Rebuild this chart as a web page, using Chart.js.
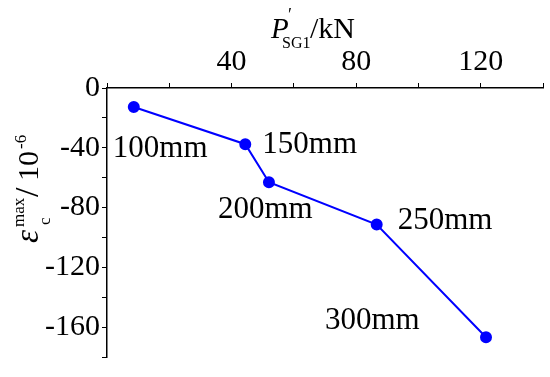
<!DOCTYPE html>
<html>
<head>
<meta charset="utf-8">
<script src="https://cdn.jsdelivr.net/npm/chart.js@4/dist/chart.umd.min.js"></script>
<style>
  html, body { margin: 0; padding: 0; background: #fff; }
  #wrap { width: 550px; height: 377px; }
</style>
</head>
<body>
<div id="wrap"><canvas id="chart" width="550" height="377"></canvas></div>
<script>
// data
const loads = [8.6, 44.4, 52.0, 86.6, 121.7]          // P'SG1 / kN
const strains = [-12.7, -37.6, -63.1, -91.4, -166.8]  // eps_c max / 1e-6
const spacings = ["100mm", "150mm", "200mm", "250mm", "300mm"]
const xTicks = [40, 80, 120]
const yTicks = [0, -40, -80, -120, -160]

const FONT = "'Liberation Serif', 'Times New Roman', serif"

// where each spacing label sits relative to its point (left, baseline)
const labelOffsets = [[-21, 50], [17, 9], [-51, 36], [21, 4], [-161, -8]]

const pointLabels = {
  id: 'pointLabels',
  afterDatasetsDraw(chart) {
    const ctx = chart.ctx
    const meta = chart.getDatasetMeta(0)
    ctx.save()
    ctx.font = '31px ' + FONT
    ctx.fillStyle = '#000'
    ctx.textBaseline = 'alphabetic'
    meta.data.forEach((pt, i) => {
      const off = labelOffsets[i]
      ctx.fillText(spacings[i], pt.x + off[0], pt.y + off[1])
    })
    ctx.restore()
  }
}

const axisTitles = {
  id: 'axisTitles',
  afterDraw(chart) {
    const ctx = chart.ctx
    ctx.save()
    ctx.fillStyle = '#000'
    ctx.textBaseline = 'alphabetic'
    // top title: P'_SG1 /kN
    let x = 271, y = 38
    ctx.font = 'italic 29px ' + FONT
    ctx.fillText('P', x, y)
    ctx.font = '18px ' + FONT
    ctx.fillText('\u2032', x + 17, y - 17)
    ctx.font = '16px ' + FONT
    ctx.fillText('SG1', x + 11, y + 10)
    ctx.font = '30px ' + FONT
    ctx.fillText('/kN', x + 39, y)

    // left title, rotated
    ctx.translate(38, 243)
    ctx.rotate(-Math.PI / 2)
    ctx.font = 'italic 33px ' + FONT
    ctx.fillText('\u03b5', 0, 0)
    ctx.font = '17px ' + FONT
    ctx.fillText('max', 16, -14)
    ctx.fillText('c', 18, 12)
    ctx.font = '34px ' + FONT
    ctx.fillText('/', 46, 0)
    ctx.font = '30px ' + FONT
    ctx.fillText('10', 62, 0)
    ctx.font = '17px ' + FONT
    ctx.fillText('-6', 94, -12)
    ctx.restore()
  }
}

new Chart(document.getElementById('chart').getContext('2d'), {
  type: 'scatter',
  data: {
    datasets: [{
      data: loads.map((v, i) => ({ x: v, y: strains[i] })),
      showLine: true,
      borderColor: '#0000ff',
      backgroundColor: '#0000ff',
      borderWidth: 2,
      pointRadius: 5,
      pointHoverRadius: 5
    }]
  },
  options: {
    responsive: false,
    animation: false,
    layout: { padding: { left: 0, top: 0, right: 6, bottom: 7 } },
    plugins: { legend: { display: false }, tooltip: { enabled: false } },
    scales: {
      x: {
        type: 'linear',
        position: 'top',
        min: 0,
        max: 140,
        afterFit: s => { s.height = 88 },
        grid: { drawOnChartArea: false, drawTicks: true, tickLength: 5, color: '#000', lineWidth: 1 },
        border: { display: true, color: '#000', width: 1.5 },
        ticks: {
          stepSize: 20,
          autoSkip: false,
          padding: 3,
          color: '#000',
          font: { family: FONT, size: 30 },
          maxRotation: 0,
          callback: v => xTicks.includes(v) ? String(v) : ''
        }
      },
      y: {
        type: 'linear',
        min: -180,
        max: 0,
        afterFit: s => { s.width = 107 },
        grid: { drawOnChartArea: false, drawTicks: true, tickLength: 5, color: '#000', lineWidth: 1 },
        border: { display: true, color: '#000', width: 1.5 },
        ticks: {
          stepSize: 20,
          autoSkip: false,
          padding: 2,
          color: '#000',
          font: { family: FONT, size: 30 },
          callback: v => yTicks.includes(v) ? String(v) : ''
        }
      }
    }
  },
  plugins: [pointLabels, axisTitles]
})
</script>
</body>
</html>
